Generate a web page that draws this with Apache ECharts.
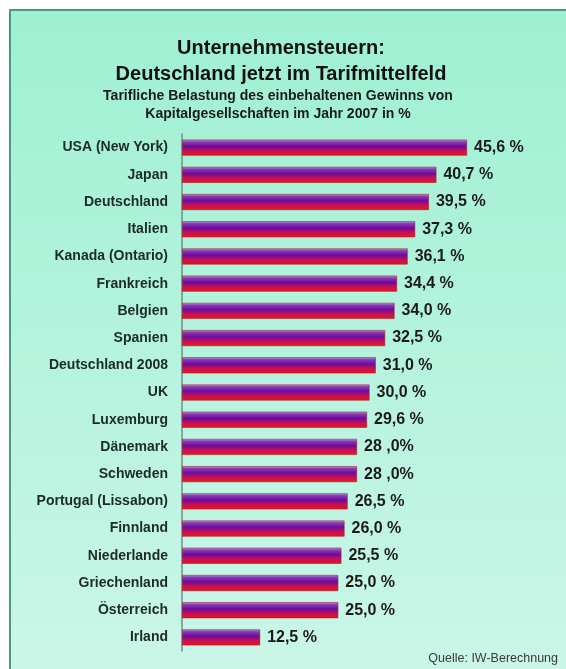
<!DOCTYPE html>
<html>
<head>
<meta charset="utf-8">
<script src="https://cdn.jsdelivr.net/npm/echarts@6/dist/echarts.min.js"></script>
<style>
  html, body { margin: 0; padding: 0; background: #fff; }
  #chart { width: 566px; height: 669px; }
</style>
</head>
<body>
<div id="chart"></div>
<script>
// Länder (von oben nach unten)
const countries = ['USA (New York)', 'Japan', 'Deutschland', 'Italien', 'Kanada (Ontario)', 'Frankreich',
  'Belgien', 'Spanien', 'Deutschland 2008', 'UK', 'Luxemburg', 'Dänemark', 'Schweden',
  'Portugal (Lissabon)', 'Finnland', 'Niederlande', 'Griechenland', 'Österreich', 'Irland'];
// Steuerbelastung in %
const values = [45.6, 40.7, 39.5, 37.3, 36.1, 34.4, 34.0, 32.5, 31.0, 30.0, 29.6, 28.0, 28.0,
  26.5, 26.0, 25.5, 25.0, 25.0, 12.5];
// Beschriftungen wie im Original
const valueLabels = ['45,6 %', '40,7 %', '39,5 %', '37,3 %', '36,1 %', '34,4 %', '34,0 %', '32,5 %',
  '31,0 %', '30,0 %', '29,6 %', '28 ,0%', '28 ,0%', '26,5 %', '26,0 %', '25,5 %', '25,0 %',
  '25,0 %', '12,5 %'];

const myChart = echarts.init(document.getElementById('chart'));

const barColor = new echarts.graphic.LinearGradient(0, 0, 0, 1, [
  { offset: 0, color: '#b9addc' },
  { offset: 0.14, color: '#8a3cb8' },
  { offset: 0.42, color: '#6c0c9c' },
  { offset: 0.68, color: '#c0105c' },
  { offset: 1, color: '#f21414' }
]);

const option = {
  backgroundColor: '#ffffff',
  graphic: [
    {
      type: 'rect',
      z: -10,
      shape: { x: 10, y: 10, width: 566, height: 669 },
      style: {
        fill: new echarts.graphic.LinearGradient(0, 0, 0, 1, [
          { offset: 0, color: '#9ef0d2' },
          { offset: 1, color: '#cbf6e8' }
        ]),
        stroke: '#4a9a80',
        lineWidth: 2
      }
    },
    {
      type: 'text',
      right: 8,
      top: 652,
      style: {
        text: 'Quelle: IW-Berechnung',
        font: '12.5px "Liberation Sans", Arial, sans-serif',
        fill: '#3a3a3a'
      }
    }
  ],
  title: [
    {
      text: 'Unternehmensteuern:\nDeutschland jetzt im Tarifmittelfeld',
      left: 276,
      textAlign: 'center',
      top: 30,
      textStyle: {
        fontFamily: '"Liberation Sans", Arial, sans-serif',
        fontSize: 20,
        fontWeight: 'bold',
        color: '#111',
        lineHeight: 26
      }
    },
    {
      text: 'Tarifliche Belastung des einbehaltenen Gewinns von\nKapitalgesellschaften im Jahr 2007 in %',
      left: 273,
      textAlign: 'center',
      top: 82,
      textStyle: {
        fontFamily: '"Liberation Sans", Arial, sans-serif',
        fontSize: 14,
        fontWeight: 'bold',
        color: '#1a1a1a',
        lineHeight: 18
      }
    }
  ],
  grid: {
    left: 182,
    top: 134,
    width: 312.5,
    height: 517
  },
  xAxis: {
    type: 'value',
    min: 0,
    max: 50,
    show: false
  },
  yAxis: {
    type: 'category',
    data: countries,
    inverse: true,
    axisLine: { show: true, lineStyle: { color: '#6f9088', width: 1.5 } },
    axisTick: { show: false },
    axisLabel: {
      margin: 14,
      fontFamily: '"Liberation Sans", Arial, sans-serif',
      fontSize: 14,
      fontWeight: 'bold',
      color: '#1c2a28'
    }
  },
  series: [
    {
      type: 'bar',
      data: values,
      barWidth: 16,
      itemStyle: {
        color: barColor,
        borderColor: '#9a2030',
        borderWidth: 0.6
      },
      label: {
        show: true,
        position: 'right',
        distance: 7,
        formatter: p => valueLabels[p.dataIndex],
        fontFamily: '"Liberation Sans", Arial, sans-serif',
        fontSize: 16,
        fontWeight: 'bold',
        color: '#1a1a1a'
      }
    }
  ]
};

option && myChart.setOption(option);
</script>
</body>
</html>
